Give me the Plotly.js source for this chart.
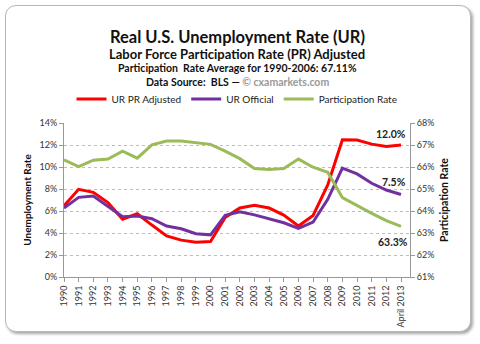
<!DOCTYPE html>
<html>
<head>
<meta charset="utf-8">
<script src="https://cdn.plot.ly/plotly-3.0.1.min.js"></script>
<style>
html,body{margin:0;padding:0;background:#fff;}
#card{position:absolute;left:5px;top:5px;width:464px;height:325px;border:1px solid #b8b8b8;border-radius:11px;box-shadow:2px 2px 3px rgba(0,0,0,0.35);background:#fff;}
#chart{position:absolute;left:0;top:0;width:480px;height:344px;}
</style>
</head>
<body>
<div id="card"></div>
<div id="chart"></div>
<script>
const years = ["1990","1991","1992","1993","1994","1995","1996","1997","1998","1999","2000","2001","2002","2003","2004","2005","2006","2007","2008","2009","2010","2011","2012","April 2013"];
const urPrAdjusted = [6.48,7.97,7.7,6.76,5.26,5.75,4.72,3.74,3.35,3.17,3.23,5.42,6.27,6.52,6.27,5.63,4.63,5.6,8.37,12.48,12.45,12.08,11.87,12.0];
const urOfficial = [6.27,7.24,7.36,6.39,5.48,5.54,5.3,4.63,4.38,3.93,3.83,5.6,5.92,5.65,5.3,4.93,4.41,4.99,7.06,9.89,9.37,8.52,7.91,7.5];
const participation = [66.33,66.02,66.31,66.36,66.72,66.4,67.01,67.18,67.18,67.1,67.03,66.72,66.38,65.93,65.89,65.93,66.36,65.99,65.76,64.61,64.24,63.89,63.56,63.3];
const leftTicks = [0,2,4,6,8,10,12,14];
const rightTicks = [61,62,63,64,65,66,67,68];

const F = "Lato, 'Open Sans', sans-serif";
const traces = [
  {x: years, y: urPrAdjusted, name: "UR PR Adjusted", type: "scatter", mode: "lines", line: {color: "#ff0000", width: 3}},
  {x: years, y: urOfficial, name: "UR Official", type: "scatter", mode: "lines", line: {color: "#7030a0", width: 3}},
  {x: years, y: participation, name: "Participation Rate", type: "scatter", mode: "lines", yaxis: "y2", line: {color: "#9bbb59", width: 3}}
];
const layout = {
  width: 480, height: 344,
  paper_bgcolor: "rgba(0,0,0,0)", plot_bgcolor: "rgba(0,0,0,0)",
  margin: {l: 64, r: 70, t: 123, b: 67},
  font: {family: F, size: 9, color: "#404040"},
  showlegend: true,
  legend: {orientation: "h", x: 0.5, xanchor: "center", y: (277 - 99) / 154, yanchor: "middle", font: {size: 10, color: "#222"}, itemwidth: 30, tracegroupgap: 0},
  xaxis: {
    type: "category", tickangle: -90, showgrid: false, showline: true, linecolor: "#999", linewidth: 1,
    ticks: "outside", tickcolor: "#999", ticklen: 4, tickfont: {size: 9, color: "#333"}, fixedrange: true
  },
  yaxis: {
    range: [0, 14], tickvals: leftTicks, ticktext: leftTicks.map(v => v + "%"),
    showgrid: true, gridcolor: "#bdbdbd", griddash: "dot", gridwidth: 1,
    showline: true, linecolor: "#999", ticks: "outside", tickcolor: "#999", ticklen: 4,
    zeroline: false, tickfont: {size: 9, color: "#333"},
    title: {text: "Unemployment Rate", font: {size: 10, color: "#111", family: F, weight: "bold"}, standoff: 6}
  },
  yaxis2: {
    range: [61, 68], tickvals: rightTicks, ticktext: rightTicks.map(v => v + "%"),
    overlaying: "y", side: "right", showgrid: false, showline: true, linecolor: "#999",
    ticks: "outside", tickcolor: "#999", ticklen: 4, zeroline: false, tickfont: {size: 9, color: "#333"},
    title: {text: "Participation Rate", font: {size: 10.5, color: "#111", family: F, weight: "bold"}, standoff: 7}
  },
  annotations: [
    {xref: "paper", yref: "paper", x: 0.5, y: (277 - 25) / 154, showarrow: false, text: "<b>Real U.S. Unemployment Rate (UR)</b>", font: {size: 16.5, color: "#111"}},
    {xref: "paper", yref: "paper", x: 0.5, y: (277 - 44) / 154, showarrow: false, text: "<b>Labor Force Participation Rate (PR) Adjusted</b>", font: {size: 13, color: "#111"}},
    {xref: "paper", yref: "paper", x: 0.5, y: (277 - 59.5) / 154, showarrow: false, text: "<b>Participation  Rate Average for 1990-2006: 67.11%</b>", font: {size: 10.5, color: "#111"}},
    {xref: "paper", yref: "paper", x: 0.5, y: (277 - 73.5) / 154, showarrow: false, text: "<b>Data Source:  BLS — <span style='color:#999'>© cxamarkets.com</span></b>", font: {size: 10.5, color: "#111"}},
    {xref: "x", yref: "y", x: years[years.length - 1], y: urPrAdjusted[urPrAdjusted.length - 1], xshift: -10, yshift: 11, showarrow: false, text: "<b>12.0%</b>", font: {size: 10.5, color: "#222"}},
    {xref: "x", yref: "y", x: years[years.length - 1], y: urOfficial[urOfficial.length - 1], xshift: -7, yshift: 13, showarrow: false, text: "<b>7.5%</b>", font: {size: 10.5, color: "#222"}},
    {xref: "x", yref: "y2", x: years[years.length - 1], y: participation[participation.length - 1], xshift: -8, yshift: -16, showarrow: false, text: "<b>63.3%</b>", font: {size: 10.5, color: "#222"}}
  ]
};
Plotly.newPlot("chart", traces, layout, {displayModeBar: false, staticPlot: true});
</script>
</body>
</html>
